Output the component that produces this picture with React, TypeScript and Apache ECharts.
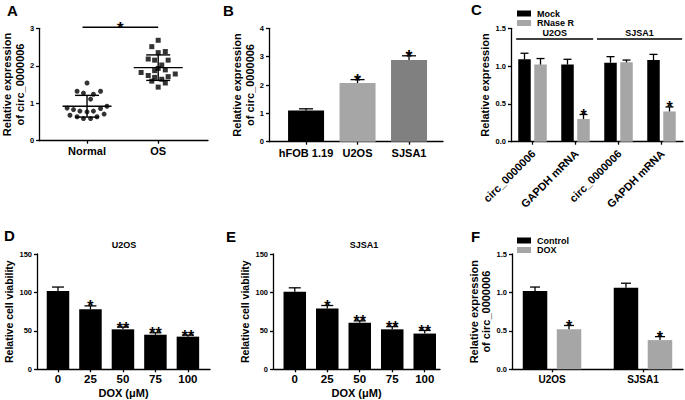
import React, { useEffect, useRef } from 'react';
import * as echarts from 'echarts';

const FONT = '"Liberation Sans", Arial, Helvetica, sans-serif';

// ---------- Panel A ----------
const aGroups = ['Normal', 'OS'];
const normalValues = [1.54, 1.32, 1.27, 1.24, 1.32, 1.11, 0.87, 0.83, 0.79, 0.77, 0.79, 0.86, 0.92, 0.68, 0.64, 0.59, 0.59, 0.64, 0.71];
const normalSpread = [0, -0.14, -0.05, 0.09, 0.19, 0.05, -0.28, -0.19, -0.1, 0, 0.09, 0.19, 0.28, -0.24, -0.14, -0.05, 0.05, 0.14, 0.24];
const osValues = [2.68, 2.51, 2.35, 2.38, 2.18, 2.15, 2.15, 2.02, 1.93, 1.89, 1.82, 1.74, 1.69, 1.64, 1.71, 1.78, 1.59, 1.54, 1.43, 1.87];
const osSpread = [0, -0.09, 0, 0.1, -0.14, 0.14, -0.05, 0.05, 0, 0.1, -0.24, -0.14, -0.05, 0.05, 0.14, 0.24, -0.09, 0.1, 0, -0.05];
const aMeans = [0.92, 1.95];
const aSDs = [0.29, 0.34];

// ---------- Panel B ----------
const bCategories = ['hFOB 1.19', 'U2OS', 'SJSA1'];
const bValues = [1.1, 2.07, 2.88];
const bErrors = [0.06, 0.12, 0.15];
const bStars = ['', '*', '*'];

// ---------- Panel C ----------
const cCategories = ['circ_0000006', 'GAPDH mRNA', 'circ_0000006', 'GAPDH mRNA'];
const cGroups = ['U2OS', 'SJSA1'];
const mockValues = [1.09, 1.02, 1.045, 1.08];
const mockErrors = [0.08, 0.07, 0.08, 0.075];
const rnaseValues = [1.02, 0.3, 1.05, 0.4];
const rnaseErrors = [0.08, 0.06, 0.03, 0.06];
const rnaseStars = ['', '*', '', '*'];

// ---------- Panels D / E ----------
const doxDoses = ['0', '25', '50', '75', '100'];
const u2osViability = [102, 78, 52, 45, 42.5];
const u2osViabilityErr = [5, 4.5, 3, 2.5, 2];
const sjsa1Viability = [101, 79, 60.5, 52, 46.5];
const sjsa1ViabilityErr = [5, 4, 2.5, 3.5, 4];
const viabilityStars = ['', '*', '**', '**', '**'];

// ---------- Panel F ----------
const fCategories = ['U2OS', 'SJSA1'];
const controlValues = [1.02, 1.06];
const controlErrors = [0.05, 0.06];
const doxValues = [0.52, 0.38];
const doxErrors = [0.05, 0.045];
const doxStars = ['*', '*'];

const BLACK = '#000000';
const GRAY = '#a6a6a6';
const DARKGRAY = '#808080';

const txt = (size: number) => ({ color: '#000', fontWeight: 'bold' as const, fontFamily: FONT, fontSize: size });
const lineStyle = { color: '#000', width: 1.3 };

function yAx(grid: number, max: number, interval: number, name: string, nameGap: number, nameSize: number, decimals = 0) {
  return {
    type: 'value', gridIndex: grid, min: 0, max, interval,
    axisLine: { show: true, onZero: false, lineStyle },
    axisTick: { show: true, length: 3, lineStyle },
    splitLine: { show: false },
    axisLabel: { ...txt(7.5), margin: 5, formatter: (v: number) => v.toFixed(decimals) },
    name, nameLocation: 'middle', nameGap, nameRotate: 90,
    nameTextStyle: { ...txt(nameSize), lineHeight: 12.5 },
  };
}

function xAx(grid: number, min: number, max: number, cats: string[], size: number, margin: number, extra: any = {}) {
  const vals = cats.map((_, i) => i + 1);
  return {
    type: 'value', gridIndex: grid, min, max,
    axisLine: { show: true, onZero: false, lineStyle },
    axisTick: { show: true, length: 3, lineStyle, customValues: vals },
    splitLine: { show: false },
    axisLabel: {
      ...txt(size), margin, customValues: vals,
      formatter: (v: number) => cats[Math.round(v) - 1] ?? '',
      ...(extra.label || {}),
    },
    ...(extra.axis || {}),
  };
}

function barSeries(name: string, grid: number, values: number[], errors: number[], stars: string[],
  opts: { colors: string[]; width: number; offset: number; cap: number; starSize: number }) {
  const { colors, width, offset, cap, starSize } = opts;
  return {
    type: 'custom', name, xAxisIndex: grid, yAxisIndex: grid,
    itemStyle: { color: colors[0] },
    dimensions: ['x', 'y', 'err'],
    encode: { x: 0, y: 1 },
    data: values.map((v, i) => [i + 1, v, errors[i]]),
    renderItem: (params: any, api: any) => {
      const i = params.dataIndex;
      const x = api.value(0), v = api.value(1), e = api.value(2);
      const p0 = api.coord([x, 0]);
      const p1 = api.coord([x, v]);
      const p2 = api.coord([x, v + e]);
      const cx = p0[0] + offset;
      const children: any[] = [
        { type: 'rect', shape: { x: cx - width / 2, y: p1[1], width, height: p0[1] - p1[1] }, style: { fill: colors[i % colors.length] } },
        { type: 'line', shape: { x1: cx, y1: p1[1], x2: cx, y2: p2[1] }, style: { stroke: '#000', lineWidth: 1.3 } },
        { type: 'line', shape: { x1: cx - cap, y1: p2[1], x2: cx + cap, y2: p2[1] }, style: { stroke: '#000', lineWidth: 1.3 } },
      ];
      if (stars[i]) {
        children.push({
          type: 'text', x: cx, y: p2[1] + 1,
          style: { text: stars[i], fill: '#000', fontSize: starSize, fontWeight: 'bold', fontFamily: FONT, align: 'center', verticalAlign: 'middle' },
        });
      }
      return { type: 'group', children };
    },
  };
}

const graphicTexts = [
  { t: 'A', x: 7, y: 10, s: 15 },
  { t: 'B', x: 223, y: 10, s: 15 },
  { t: 'C', x: 471, y: 9, s: 15 },
  { t: 'D', x: 4, y: 235, s: 15 },
  { t: 'E', x: 226, y: 236, s: 15 },
  { t: 'F', x: 471, y: 236, s: 15 },
].map((g) => ({
  type: 'text', x: g.x, y: g.y,
  style: { text: g.t, fill: '#000', fontSize: g.s, fontWeight: 'bold', fontFamily: FONT, verticalAlign: 'middle' },
}));

const panelTitles = [
  { t: 'U2OS', x: 124, y: 245 },
  { t: 'SJSA1', x: 364, y: 245 },
].map((g) => ({
  type: 'text', x: g.x, y: g.y,
  style: { text: g.t, fill: '#000', fontSize: 9, fontWeight: 'bold', fontFamily: FONT, align: 'center', verticalAlign: 'middle' },
}));

function buildOption() {
  const grids = [
    { left: 37, top: 28.3, width: 171, height: 112.4 },
    { left: 269, top: 28.3, width: 174, height: 113.4 },
    { left: 511, top: 28.3, width: 172, height: 113.4 },
    { left: 37, top: 254, width: 173, height: 115.3 },
    { left: 273, top: 254, width: 167, height: 115.3 },
    { left: 512, top: 254, width: 171, height: 115.3 },
  ];

  const xAxes = [
    xAx(0, 0.326, 2.7, aGroups, 11, 5),
    xAx(1, 0.28, 3.66, bCategories, 11, 6),
    xAx(2, 0.5, 4.5, cCategories, 11, 6, { label: { show: false } }),
    xAx(3, 0.354, 5.68, doxDoses, 11.5, 4, { axis: { name: 'DOX (\u03bcM)', nameLocation: 'middle', nameGap: 18, nameTextStyle: txt(11) } }),
    xAx(4, 0.33, 5.47, doxDoses, 11.5, 4, { axis: { name: 'DOX (\u03bcM)', nameLocation: 'middle', nameGap: 18, nameTextStyle: txt(11) } }),
    xAx(5, 0.56, 2.44, fCategories, 10, 5),
  ];

  const yAxes = [
    yAx(0, 3, 1, 'Relative expression\nof circ_0000006', 10, 11),
    yAx(1, 4, 1, 'Relative expression\nof circ_0000006', 9, 11),
    yAx(2, 1.5, 0.5, 'Relative expression', 17, 11, 1),
    yAx(3, 150, 50, 'Relative cell viability', 20, 10.5),
    yAx(4, 150, 50, 'Relative cell viability', 18, 10.5),
    yAx(5, 1.5, 0.5, 'Relative expression\nof circ_0000006', 17, 11, 1),
  ];

  const series: any[] = [
    {
      type: 'scatter', name: 'NormalDots', xAxisIndex: 0, yAxisIndex: 0,
      symbol: 'circle', symbolSize: 5, itemStyle: { color: BLACK },
      data: normalValues.map((v, i) => [1 + normalSpread[i], v]),
    },
    {
      type: 'scatter', name: 'OSDots', xAxisIndex: 0, yAxisIndex: 0,
      symbol: 'rect', symbolSize: 5, itemStyle: { color: BLACK },
      data: osValues.map((v, i) => [2 + osSpread[i], v]),
    },
    {
      type: 'custom', name: 'MeanSD', xAxisIndex: 0, yAxisIndex: 0,
      dimensions: ['x', 'mean', 'sd'], encode: { x: 0, y: 1 },
      data: aMeans.map((m, i) => [i + 1, m, aSDs[i]]),
      renderItem: (params: any, api: any) => {
        const x = api.value(0), m = api.value(1), sd = api.value(2);
        const pm = api.coord([x, m]);
        const pt = api.coord([x, m + sd]);
        const pb = api.coord([x, m - sd]);
        const st = { stroke: '#000', lineWidth: 1.4 };
        return {
          type: 'group', children: [
            { type: 'line', shape: { x1: pm[0] - 24.5, y1: pm[1], x2: pm[0] + 24.5, y2: pm[1] }, style: st },
            { type: 'line', shape: { x1: pm[0], y1: pt[1], x2: pm[0], y2: pb[1] }, style: st },
            { type: 'line', shape: { x1: pm[0] - 12, y1: pt[1], x2: pm[0] + 12, y2: pt[1] }, style: st },
            { type: 'line', shape: { x1: pm[0] - 12, y1: pb[1], x2: pm[0] + 12, y2: pb[1] }, style: st },
          ],
        };
      },
    },
    {
      type: 'custom', name: 'SigA', xAxisIndex: 0, yAxisIndex: 0,
      data: [[1, 2]],
      renderItem: (params: any, api: any) => {
        const a = api.coord([api.value(0), 3.03]);
        const b = api.coord([api.value(1), 3.03]);
        return {
          type: 'group', children: [
            { type: 'line', shape: { x1: a[0] - 4.5, y1: a[1], x2: b[0], y2: b[1] }, style: { stroke: '#000', lineWidth: 1.5 } },
            { type: 'text', x: (a[0] - 4.5 + b[0]) / 2, y: a[1] + 1, style: { text: '*', fill: '#000', fontSize: 17, fontWeight: 'bold', fontFamily: FONT, align: 'center', verticalAlign: 'middle' } },
          ],
        };
      },
    },
    barSeries('B', 1, bValues, bErrors, bStars, { colors: [BLACK, GRAY, DARKGRAY], width: 36, offset: 0, cap: 7, starSize: 18 }),
    barSeries('Mock', 2, mockValues, mockErrors, ['', '', '', ''], { colors: [BLACK], width: 12.5, offset: -8, cap: 4, starSize: 16 }),
    barSeries('RNase R', 2, rnaseValues, rnaseErrors, rnaseStars, { colors: [GRAY], width: 12.5, offset: 8, cap: 4, starSize: 16 }),
    {
      type: 'custom', name: 'CGroups', xAxisIndex: 2, yAxisIndex: 2,
      data: cGroups.map((_, i) => [i]),
      renderItem: (params: any, api: any) => {
        const spans = [[0.62, 2.41], [2.5, 4.48]];
        const s = spans[params.dataIndex];
        const a = api.coord([s[0], 1.36]);
        const b = api.coord([s[1], 1.36]);
        return {
          type: 'group', children: [
            { type: 'line', shape: { x1: a[0], y1: a[1], x2: b[0], y2: b[1] }, style: { stroke: '#000', lineWidth: 1.5 } },
            { type: 'text', x: (a[0] + b[0]) / 2, y: a[1] - 6, style: { text: cGroups[params.dataIndex], fill: '#000', fontSize: 9, fontWeight: 'bold', fontFamily: FONT, align: 'center', verticalAlign: 'middle' } },
          ],
        };
      },
    },
    {
      type: 'custom', name: 'CLabels', xAxisIndex: 2, yAxisIndex: 2,
      data: cCategories.map((_, i) => [i + 1]),
      renderItem: (params: any, api: any) => {
        const p = api.coord([api.value(0), 0]);
        return {
          type: 'text', x: p[0] + 1, y: p[1] + 10, rotation: Math.PI / 4,
          style: { text: cCategories[params.dataIndex], fill: '#000', fontSize: 11, fontWeight: 'bold', fontFamily: FONT, align: 'right', verticalAlign: 'middle' },
        };
      },
    },
    barSeries('U2OSViab', 3, u2osViability, u2osViabilityErr, viabilityStars, { colors: [BLACK], width: 22.5, offset: 0, cap: 6, starSize: 16 }),
    barSeries('SJSA1Viab', 4, sjsa1Viability, sjsa1ViabilityErr, viabilityStars, { colors: [BLACK], width: 22.5, offset: 0, cap: 6, starSize: 16 }),
    barSeries('Control', 5, controlValues, controlErrors, ['', ''], { colors: [BLACK], width: 24.5, offset: -17, cap: 5, starSize: 16 }),
    barSeries('DOX', 5, doxValues, doxErrors, doxStars, { colors: [GRAY], width: 24.5, offset: 17, cap: 5, starSize: 16 }),
  ];

  const legendBase = {
    orient: 'vertical', icon: 'rect', itemWidth: 14, itemHeight: 6, itemGap: 0.5,
    textStyle: { ...txt(9), padding: [0, 0, 0, 1] }, selectedMode: false,
  };

  return {
    animation: false,
    backgroundColor: '#ffffff',
    grid: grids,
    xAxis: xAxes,
    yAxis: yAxes,
    series,
    legend: [
      { ...legendBase, left: 512, top: 4, data: ['Mock', 'RNase R'] },
      { ...legendBase, left: 512, top: 231, data: ['Control', 'DOX'] },
    ],
    graphic: [...graphicTexts, ...panelTitles],
  };
}

export default function App() {
  const ref = useRef<HTMLDivElement>(null);
  useEffect(() => {
    if (!ref.current) return;
    const chart = echarts.init(ref.current, null, { renderer: 'svg' });
    chart.setOption(buildOption() as any);
    return () => chart.dispose();
  }, []);
  return <div ref={ref} style={{ position: 'fixed', left: 0, top: 0, width: 685, height: 400, background: '#fff' }} />;
}
